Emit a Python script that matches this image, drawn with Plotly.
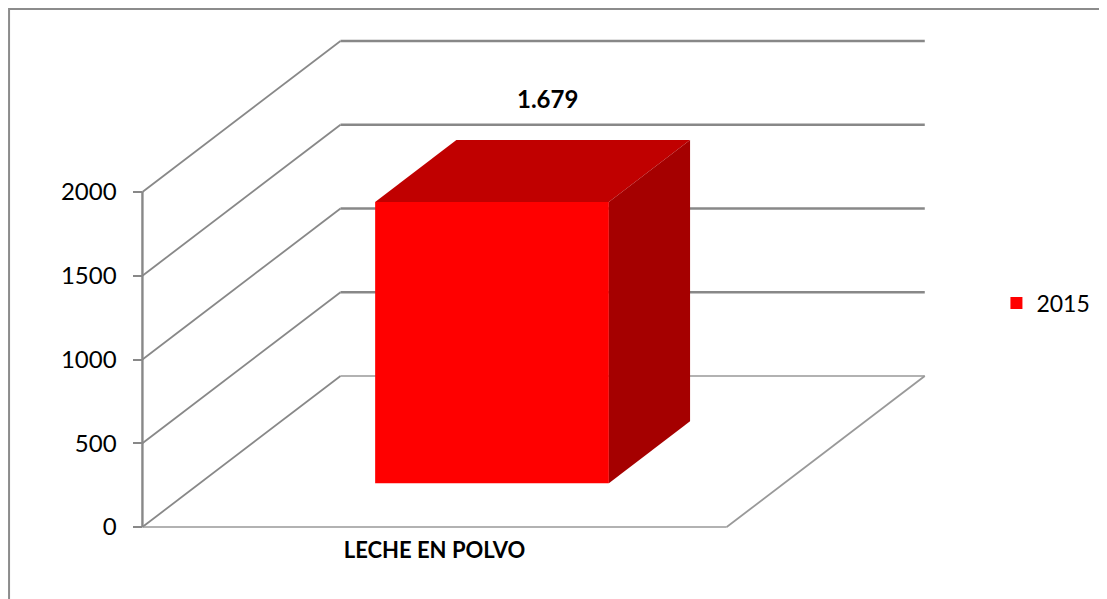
import plotly.graph_objects as go

# ---- data ----
categories = ["LECHE EN POLVO"]
series_name = "2015"
values = [1679]
value_labels = ["1.679"]
y_ticks = [0, 500, 1000, 1500, 2000]

# ---- 3D oblique projection geometry (layout constants) ----
OFF = 8                         # page body margin
W, H = 1107 - OFF, 599 - OFF
M = dict(l=12, r=12, t=12, b=12)
PX_X = 587.0                    # pixels per category unit on front plane
PX_V = 0.1675                   # pixels per value unit
ORIG_PX = (143 - OFF, 527 - OFF)  # pixel position of (x=0, value=0) on front plane
DX = 199 / PX_X                 # depth offset (x units)
DY = 151 / PX_V                 # depth offset (value units)
T1, T2 = 0.29, 0.70             # bar depth span (fraction of full depth)
BAR_W = 0.40                    # bar width (category units)

plot_w = W - M["l"] - M["r"]
plot_h = H - M["t"] - M["b"]
x_range = [(M["l"] - ORIG_PX[0]) / PX_X, (W - M["r"] - ORIG_PX[0]) / PX_X]
y_range = [-(H - M["b"] - ORIG_PX[1]) / PX_V, (ORIG_PX[1] - M["t"]) / PX_V]

GRID = "#888888"
FLOOR = "#999999"
FONT = "Lato, Liberation Sans, sans-serif"

def proj(x, v, t):
    return x + DX * t, v + DY * t

shapes = []
def seg(p0, p1, color, width):
    shapes.append(dict(type="line", xref="x", yref="y", layer="below",
                       x0=p0[0], y0=p0[1], x1=p1[0], y1=p1[1],
                       line=dict(color=color, width=width)))

vmax = max(y_ticks)
# back wall gridlines and left wall diagonals
for v in y_ticks:
    if v > 0:
        seg(proj(0, v, 1), proj(1, v, 1), GRID, 2.4)
    seg(proj(0, v, 0), proj(0, v, 1), GRID, 1.8)
# floor
seg(proj(0, 0, 1), proj(1, 0, 1), FLOOR, 1.6)
seg(proj(0, 0, 0), proj(1, 0, 0), FLOOR, 1.6)
seg(proj(1, 0, 0), proj(1, 0, 1), FLOOR, 1.8)
# front value axis line
seg(proj(0, 0, 0), proj(0, vmax, 0), GRID, 2.4)

# outer chart border (left and top visible; right/bottom beyond the page)
shapes.append(dict(type="rect", xref="paper", yref="paper", layer="above",
                   x0=(1 - M["l"]) / plot_w, x1=(W + 10 - M["l"]) / plot_w,
                   y0=-(30) / plot_h, y1=(H - M["b"] - 1) / plot_h,
                   line=dict(color="#8c8c8c", width=2)))

fig = go.Figure()
annotations = []
for i, (cat, v) in enumerate(zip(categories, values)):
    xc = 0.5 + i
    xl, xr = xc - BAR_W / 2, xc + BAR_W / 2
    # front face (real bar)
    fig.add_trace(go.Bar(x=[xc + DX * T1], y=[v], base=[DY * T1], width=[BAR_W],
                         marker=dict(color="#FF0000", line=dict(width=0)),
                         name=series_name, showlegend=(i == 0), hoverinfo="skip"))
    # top face
    pts = [proj(xl, v, T1), proj(xr, v, T1), proj(xr, v, T2), proj(xl, v, T2), proj(xl, v, T1)]
    fig.add_trace(go.Scatter(x=[p[0] for p in pts], y=[p[1] for p in pts], mode="lines",
                             fill="toself", fillcolor="#C00000", line=dict(width=0, color="#C00000"),
                             showlegend=False, hoverinfo="skip"))
    # right side face
    pts = [proj(xr, 0, T1), proj(xr, 0, T2), proj(xr, v, T2), proj(xr, v, T1), proj(xr, 0, T1)]
    fig.add_trace(go.Scatter(x=[p[0] for p in pts], y=[p[1] for p in pts], mode="lines",
                             fill="toself", fillcolor="#A50000", line=dict(width=0, color="#A50000"),
                             showlegend=False, hoverinfo="skip"))
    lx, ly = proj(xc, v, (T1 + T2) / 2)
    annotations.append(dict(x=lx + 0.025, y=ly, xref="x", yref="y", text=value_labels[i],
                            showarrow=False, yshift=73,
                            font=dict(family=FONT, size=24, color="black", weight="bold")))

fig.update_layout(
    width=W, height=H, margin=M,
    paper_bgcolor="white", plot_bgcolor="rgba(0,0,0,0)",
    shapes=shapes, annotations=annotations,
    showlegend=True,
    legend=dict(x=(993 - M["l"]) / plot_w, y=(H - M["b"] - 295) / plot_h,
                xanchor="left", yanchor="middle", bgcolor="rgba(0,0,0,0)",
                font=dict(family=FONT, size=23, color="black")),
    xaxis=dict(range=x_range, anchor="free",
               position=(H - M["b"] - ORIG_PX[1]) / plot_h,
               tickvals=[0.5 + i for i in range(len(categories))], ticktext=categories,
               ticks="", showgrid=False, zeroline=False, showline=False,
               ticklabelstandoff=8,
               tickfont=dict(family=FONT, size=22, color="black", weight="bold")),
    yaxis=dict(range=y_range, anchor="free",
               position=(ORIG_PX[0] - M["l"]) / plot_w,
               tickvals=y_ticks, ticks="outside", ticklen=9, tickwidth=2, tickcolor=GRID,
               showgrid=False, zeroline=False, showline=False,
               ticklabelstandoff=12,
               tickfont=dict(family=FONT, size=24, color="black")),
    hovermode=False,
)

fig.write_html("out.html")
